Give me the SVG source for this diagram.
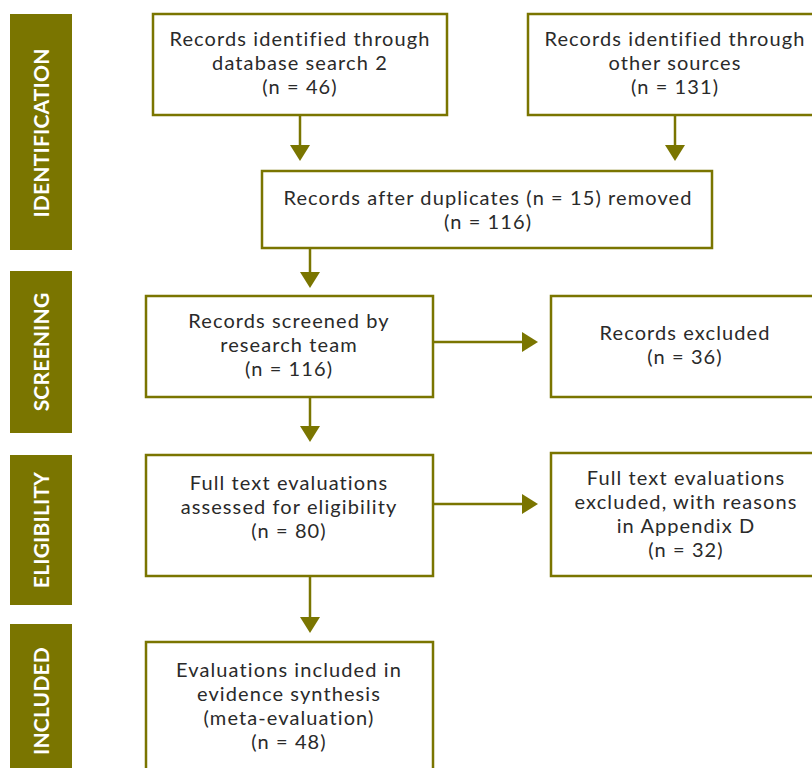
<svg xmlns="http://www.w3.org/2000/svg" width="812" height="768" viewBox="0 0 812 768">
<defs>
<style>
.bar{fill:#7a7500}
.lbl{fill:#ffffff;font-family:Lato,"Noto Sans",sans-serif;font-size:21px;font-weight:bold;text-anchor:middle;letter-spacing:0.2px}
.box{fill:#ffffff;stroke:#7a7500;stroke-width:2.5}
.t{fill:#2a2a2a;font-family:Lato,"Noto Sans",sans-serif;font-size:20px;text-anchor:middle;letter-spacing:1.1px}
.c{stroke:#7a7500;stroke-width:2.5;fill:none}
.ah{fill:#7a7500}
</style>
</defs>
<rect width="812" height="768" fill="#ffffff"/>
<g id="stage-identification"><rect class="bar" x="10" y="14" width="62" height="236"/><text class="lbl" transform="translate(49,133) rotate(-90)">IDENTIFICATION</text></g>
<g id="stage-screening"><rect class="bar" x="10" y="271" width="62" height="162"/><text class="lbl" transform="translate(49,352) rotate(-90)">SCREENING</text></g>
<g id="stage-eligibility"><rect class="bar" x="10" y="455" width="62" height="150"/><text class="lbl" transform="translate(49,530) rotate(-90)">ELIGIBILITY</text></g>
<g id="stage-included"><rect class="bar" x="10" y="624" width="62" height="154"/><text class="lbl" transform="translate(49,701) rotate(-90)">INCLUDED</text></g>

<g id="connectors">
<line class="c" x1="300" y1="115" x2="300" y2="146"/><polygon class="ah" points="290,145 310,145 300,161"/>
<line class="c" x1="675" y1="115" x2="675" y2="146"/><polygon class="ah" points="665,145 685,145 675,161"/>
<line class="c" x1="310" y1="248" x2="310" y2="273"/><polygon class="ah" points="300,272 320,272 310,288"/>
<line class="c" x1="310" y1="397" x2="310" y2="427"/><polygon class="ah" points="300,426 320,426 310,442"/>
<line class="c" x1="310" y1="576" x2="310" y2="618"/><polygon class="ah" points="300,617 320,617 310,633"/>
<line class="c" x1="433" y1="342" x2="523" y2="342"/><polygon class="ah" points="522,332 522,352 538,342"/>
<line class="c" x1="433" y1="504" x2="523" y2="504"/><polygon class="ah" points="522,494 522,514 538,504"/>
</g>

<g id="db-search"><rect class="box" x="153" y="14" width="294" height="101"/>
<text class="t" x="300" y="46">Records identified through</text><text class="t" x="300" y="70">database search 2</text><text class="t" x="300" y="94">(n = 46)</text></g>
<g id="other-sources"><rect class="box" x="528" y="14" width="300" height="101"/>
<text class="t" x="675" y="46">Records identified through</text><text class="t" x="675" y="70">other sources</text><text class="t" x="675" y="94">(n = 131)</text></g>
<g id="after-duplicates"><rect class="box" x="262" y="171" width="450" height="77"/>
<text class="t" x="488" y="205">Records after duplicates (n = 15) removed</text><text class="t" x="488" y="229">(n = 116)</text></g>
<g id="screened"><rect class="box" x="146" y="296" width="287" height="101"/>
<text class="t" x="289" y="328">Records screened by</text><text class="t" x="289" y="352">research team</text><text class="t" x="289" y="376">(n = 116)</text></g>
<g id="excluded"><rect class="box" x="551" y="296" width="280" height="101"/>
<text class="t" x="685" y="340">Records excluded</text><text class="t" x="685" y="364">(n = 36)</text></g>
<g id="full-text"><rect class="box" x="146" y="455" width="287" height="121"/>
<text class="t" x="289" y="490">Full text evaluations</text><text class="t" x="289" y="514">assessed for eligibility</text><text class="t" x="289" y="538">(n = 80)</text></g>
<g id="full-text-excluded"><rect class="box" x="551" y="453" width="280" height="123"/>
<text class="t" x="686" y="485">Full text evaluations</text><text class="t" x="686" y="509">excluded, with reasons</text><text class="t" x="686" y="533">in Appendix D</text><text class="t" x="686" y="557">(n = 32)</text></g>
<g id="included"><rect class="box" x="146" y="642" width="287" height="140"/>
<text class="t" x="289" y="677">Evaluations included in</text><text class="t" x="289" y="701">evidence synthesis</text><text class="t" x="289" y="725">(meta-evaluation)</text><text class="t" x="289" y="749">(n = 48)</text></g>
</svg>
